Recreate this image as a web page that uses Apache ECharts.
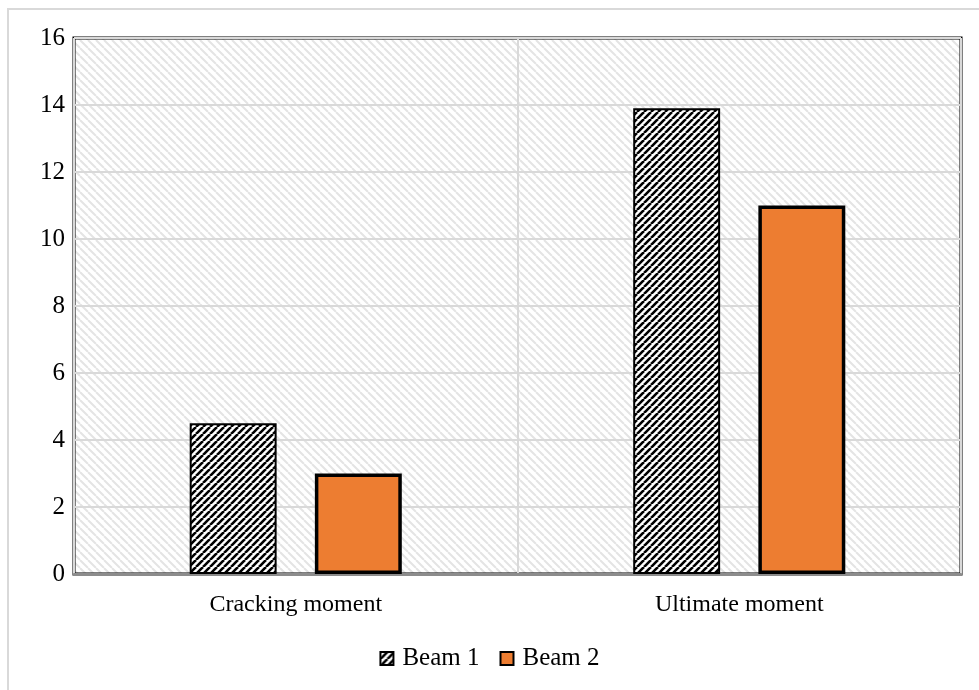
<!DOCTYPE html>
<html>
<head>
<meta charset="utf-8">
<script src="https://cdn.jsdelivr.net/npm/echarts@6/dist/echarts.min.js"></script>
<style>
  html, body { margin: 0; padding: 0; background: #fff; }
  #chart { width: 979px; height: 690px; }
</style>
</head>
<body>
<div id="chart"></div>
<script>
// Moment results for the two beams
const categories = ['Cracking moment', 'Ultimate moment'];
const beam1 = [4.5, 13.9];
const beam2 = [3.0, 11.0];
const seriesNames = ['Beam 1', 'Beam 2'];

// Diagonal stripe pattern on a small tile; dir '/' or '\\'
function stripes(size, bg, fg, lw, dir) {
  const c = document.createElement('canvas');
  c.width = size; c.height = size;
  const ctx = c.getContext('2d');
  ctx.fillStyle = bg;
  ctx.fillRect(0, 0, size, size);
  ctx.strokeStyle = fg;
  ctx.lineWidth = lw;
  ctx.beginPath();
  for (let k = -1; k <= 1; k++) {
    if (dir === '/') {
      ctx.moveTo(k * size, size);
      ctx.lineTo(k * size + size, 0);
    } else {
      ctx.moveTo(k * size, 0);
      ctx.lineTo(k * size + size, size);
    }
  }
  ctx.stroke();
  return c;
}

const plotHatch = { image: stripes(8, '#ffffff', '#e4e4e4', 2, '\\'), repeat: 'repeat' };
const barHatch = { image: stripes(7, '#ffffff', '#000000', 2.6, '/'), repeat: 'repeat' };

const font = 'Liberation Serif';
const chart = echarts.init(document.getElementById('chart'));
chart.setOption({
  animation: false,
  graphic: [{
    type: 'rect',
    shape: { x: 8, y: 9, width: 1200, height: 1200 },
    style: { fill: 'none', stroke: '#d9d9d9', lineWidth: 2 },
    silent: true,
    z: -10
  }],
  grid: {
    left: 74, right: 18, top: 38, bottom: 116,
    show: true,
    backgroundColor: plotHatch,
    borderColor: '#000',
    borderWidth: 3
  },
  legend: {
    bottom: 14,
    left: 'center',
    icon: 'rect',
    itemWidth: 13,
    itemHeight: 13,
    itemGap: 20,
    textStyle: { fontFamily: font, fontSize: 25, color: '#000', padding: [0, 0, 0, 4] },
    data: seriesNames
  },
  xAxis: {
    type: 'category',
    data: categories,
    axisTick: { show: false },
    axisLine: { lineStyle: { color: '#8c8c8c', width: 3 } },
    axisLabel: { fontFamily: font, fontSize: 24, color: '#000', margin: 19 },
    splitLine: { show: true, lineStyle: { color: '#d9d9d9', width: 2 } }
  },
  yAxis: {
    type: 'value',
    min: 0, max: 16, interval: 2,
    axisLine: { show: false },
    axisTick: { show: false },
    axisLabel: { fontFamily: font, fontSize: 25, color: '#000', margin: 9 },
    splitLine: { lineStyle: { color: '#d9d9d9', width: 2 } }
  },
  series: [
    {
      name: seriesNames[0],
      type: 'bar',
      data: beam1,
      barWidth: '19.6%',
      barGap: '44%',
      itemStyle: { color: barHatch, borderColor: '#000', borderWidth: 2 }
    },
    {
      name: seriesNames[1],
      type: 'bar',
      data: beam2,
      barWidth: '19.6%',
      itemStyle: { color: '#ed7d31', borderColor: '#000', borderWidth: 3.5 }
    }
  ]
});
</script>
</body>
</html>
